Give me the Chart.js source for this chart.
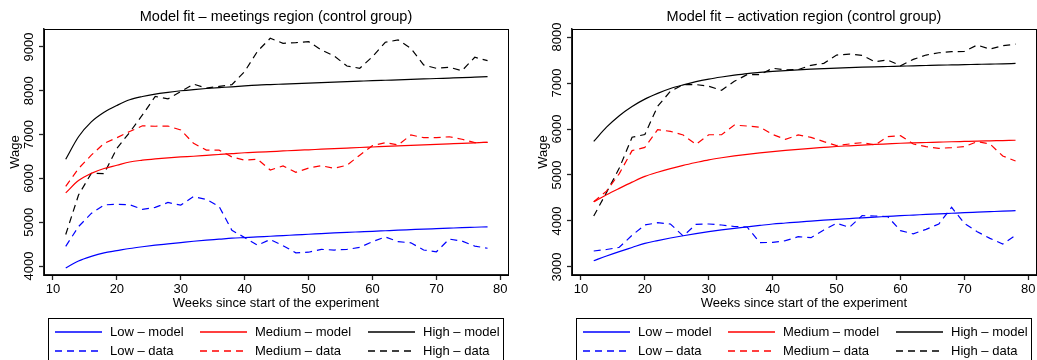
<!DOCTYPE html>
<html>
<head>
<meta charset="utf-8">
<script src="https://cdn.jsdelivr.net/npm/chart.js@4.4.1/dist/chart.umd.min.js"></script>
<style>
  html, body { margin: 0; padding: 0; background: #fff; overflow: hidden; }
  #wrap { position: relative; width: 1037px; height: 360px; overflow: hidden; }
  .panel { position: absolute; top: 0; width: 518px; height: 360px; }
  #p1 { left: 0; }
  #p2 { left: 528px; }
</style>
</head>
<body>
<div id="wrap">
  <div class="panel" id="p1"><canvas id="meetings" width="518" height="360"></canvas></div>
  <div class="panel" id="p2"><canvas id="activation" width="518" height="360"></canvas></div>
</div>
<script>
// weeks since start (every 2 weeks)
const weeks = [12, 14, 16, 18, 20, 22, 24, 26, 28, 30, 32, 34, 36, 38, 40, 42, 44, 46, 48, 50, 52, 54, 56, 58, 60, 62, 64, 66, 68, 70, 72, 74, 76, 78];

const seriesNames = ["Low – model", "Medium – model", "High – model", "Low – data", "Medium – data", "High – data"];
const seriesColors = ["#0000ff", "#ff0000", "#000000", "#0000ff", "#ff0000", "#000000"];

const xTicks = [10, 20, 30, 40, 50, 60, 70, 80];

// meetings region
const meetingsTitle = "Model fit – meetings region (control group)";
const meetingsYTicks = [4000, 5000, 6000, 7000, 8000, 9000];
const lowModelM = [3955, 4115, 4220, 4300, 4350, 4400, 4440, 4475, 4505, 4535, 4565, 4590, 4612, 4635, 4650, 4665, 4680, 4695, 4710, 4725, 4740, 4755, 4768, 4780, 4792, 4805, 4818, 4830, 4842, 4853, 4864, 4875, 4885, 4895];
const midModelM = [5670, 5950, 6115, 6225, 6300, 6375, 6415, 6445, 6470, 6490, 6505, 6525, 6545, 6565, 6585, 6598, 6612, 6626, 6640, 6653, 6666, 6679, 6692, 6705, 6717, 6729, 6741, 6753, 6765, 6777, 6789, 6801, 6812, 6824];
const highModelM = [6436, 6950, 7290, 7510, 7665, 7795, 7870, 7925, 7965, 8000, 8028, 8052, 8072, 8090, 8112, 8130, 8142, 8153, 8164, 8175, 8186, 8197, 8208, 8219, 8230, 8240, 8250, 8260, 8270, 8280, 8290, 8300, 8311, 8322];
const lowDataM = [4450, 4900, 5200, 5395, 5410, 5400, 5292, 5340, 5450, 5390, 5585, 5520, 5360, 4815, 4650, 4475, 4605, 4465, 4300, 4315, 4380, 4365, 4380, 4425, 4555, 4665, 4555, 4530, 4365, 4325, 4615, 4570, 4455, 4405];
const midDataM = [5820, 6225, 6530, 6800, 6928, 7070, 7200, 7190, 7195, 7105, 6800, 6645, 6645, 6490, 6415, 6440, 6190, 6285, 6140, 6235, 6290, 6230, 6300, 6530, 6747, 6815, 6763, 6991, 6930, 6930, 6950, 6893, 6815, 6824];
const highDataM = [4720, 5620, 6115, 6110, 6684, 7050, 7448, 7869, 7815, 7983, 8151, 8060, 8100, 8140, 8440, 8900, 9198, 9084, 9098, 9121, 8932, 8795, 8566, 8513, 8779, 9107, 9160, 8970, 8589, 8513, 8536, 8459, 8765, 8687];

// activation region
const activationTitle = "Model fit – activation region (control group)";
const activationYTicks = [3000, 4000, 5000, 6000, 7000, 8000];
const lowModelA = [3137, 3240, 3335, 3425, 3515, 3575, 3630, 3680, 3725, 3767, 3805, 3840, 3872, 3904, 3935, 3956, 3977, 3997, 4017, 4037, 4053, 4069, 4085, 4100, 4116, 4129, 4142, 4155, 4168, 4181, 4192, 4203, 4214, 4224];
const midModelA = [4418, 4570, 4710, 4845, 4970, 5060, 5140, 5210, 5272, 5330, 5375, 5415, 5450, 5482, 5510, 5535, 5558, 5580, 5600, 5620, 5635, 5650, 5664, 5677, 5690, 5699, 5707, 5715, 5723, 5730, 5737, 5743, 5749, 5755];
const highModelA = [5730, 6040, 6290, 6490, 6650, 6775, 6880, 6960, 7030, 7085, 7130, 7170, 7205, 7230, 7252, 7270, 7286, 7300, 7313, 7325, 7335, 7344, 7352, 7359, 7366, 7373, 7380, 7387, 7393, 7399, 7405, 7411, 7416, 7425];
const lowDataA = [3348, 3380, 3428, 3690, 3913, 3963, 3935, 3674, 3927, 3935, 3913, 3880, 3870, 3530, 3535, 3572, 3659, 3637, 3804, 3949, 3862, 4116, 4109, 4094, 3790, 3720, 3819, 3935, 4297, 3949, 3768, 3623, 3500, 3688];
const midDataA = [4418, 4650, 5030, 5530, 5600, 5985, 5950, 5870, 5665, 5875, 5875, 6085, 6065, 6040, 5880, 5776, 5870, 5819, 5725, 5640, 5674, 5703, 5652, 5833, 5855, 5674, 5616, 5580, 5594, 5616, 5725, 5674, 5413, 5304];
const highDataA = [4107, 4620, 5150, 5820, 5880, 6495, 6820, 6965, 6965, 6929, 6842, 7038, 7182, 7182, 7320, 7286, 7291, 7385, 7427, 7608, 7629, 7602, 7462, 7500, 7375, 7514, 7608, 7658, 7680, 7689, 7825, 7738, 7810, 7846];

const FONT = "'Liberation Sans', Arial, Helvetica, sans-serif";
Chart.defaults.font.family = FONT;
Chart.defaults.font.size = 13;
Chart.defaults.color = "#000";

// box around the plot region
const frame = {
  id: "frame",
  afterDraw(chart) {
    const a = chart.chartArea;
    const ctx = chart.ctx;
    ctx.save();
    ctx.strokeStyle = "#000";
    ctx.lineWidth = 1;
    ctx.strokeRect(Math.round(a.left) + 0.5, Math.round(a.top) + 0.5, Math.round(a.right - a.left), Math.round(a.bottom - a.top));
    ctx.restore();
  }
};

// stata-like legend: 3 columns x 2 rows inside a box
const boxLegend = {
  id: "boxLegend",
  afterDraw(chart) {
    const ctx = chart.ctx;
    const colX = [55, 200, 368];
    const rowY = [332, 351];
    ctx.save();
    ctx.strokeStyle = "#000";
    ctx.lineWidth = 1;
    ctx.setLineDash([]);
    ctx.strokeRect(48.5, 318.5, 455, 60);
    chart.data.datasets.forEach((d, i) => {
      const x = colX[i % 3];
      const y = rowY[Math.floor(i / 3)];
      ctx.save();
      ctx.beginPath();
      ctx.setLineDash(i < 3 ? [] : [7, 5]);
      ctx.strokeStyle = seriesColors[i];
      ctx.lineWidth = 1.3;
      ctx.moveTo(x, y);
      ctx.lineTo(x + 47, y);
      ctx.stroke();
      ctx.restore();
      ctx.fillStyle = "#000";
      ctx.font = "13px " + FONT;
      ctx.textBaseline = "middle";
      ctx.fillText(d.label, x + 55, y);
    });
    ctx.restore();
  }
};

function makeChart(id, title, yMin, yMax, yTicks, series) {
  const datasets = series.map((vals, i) => ({
    label: seriesNames[i],
    data: weeks.map((w, j) => ({ x: w, y: vals[j] })),
    borderColor: seriesColors[i],
    backgroundColor: seriesColors[i],
    borderWidth: 1.2,
    borderDash: i < 3 ? [] : [7, 5],
    cubicInterpolationMode: i < 3 ? "monotone" : "default",
    tension: 0,
    pointRadius: 0,
    fill: false
  }));

  new Chart(document.getElementById(id), {
    type: "line",
    data: { datasets },
    plugins: [frame, boxLegend],
    options: {
      responsive: false,
      animation: false,
      events: [],
      layout: { padding: { top: 0, right: 10, bottom: 49, left: 0 } },
      plugins: {
        legend: { display: false },
        tooltip: { enabled: false },
        title: {
          display: true,
          fullSize: false,
          text: title,
          color: "#000",
          font: { size: 14.5, weight: "normal" },
          padding: { top: 8, bottom: 3.6 }
        }
      },
      scales: {
        x: {
          type: "linear",
          min: 8.6,
          max: 81.2,
          afterBuildTicks: s => { s.ticks = xTicks.map(v => ({ value: v })); },
          afterFit: s => { s.height = 36; },
          ticks: { color: "#000", padding: 2, callback: v => String(v) },
          grid: { drawOnChartArea: false, tickLength: 5, tickColor: "#222", tickWidth: 1.3 },
          border: { color: "#222", width: 1.5 },
          title: { display: true, text: "Weeks since start of the experiment", color: "#000", padding: 0 }
        },
        y: {
          type: "linear",
          min: yMin,
          max: yMax,
          afterBuildTicks: s => { s.ticks = yTicks.map(v => ({ value: v })); },
          afterFit: s => { s.width = 44; },
          ticks: { color: "#000", minRotation: 90, maxRotation: 90, crossAlign: "center", padding: -5, callback: v => String(v) },
          grid: { drawOnChartArea: false, tickLength: 5, tickColor: "#222", tickWidth: 1.3 },
          border: { color: "#222", width: 1.5 },
          title: { display: true, text: "Wage", color: "#000", padding: { top: 8, bottom: 0 } }
        }
      }
    }
  });
}

makeChart("meetings", meetingsTitle, 3795, 9410, meetingsYTicks,
  [lowModelM, midModelM, highModelM, lowDataM, midDataM, highDataM]);
makeChart("activation", activationTitle, 2826, 8174, activationYTicks,
  [lowModelA, midModelA, highModelA, lowDataA, midDataA, highDataA]);
</script>
</body>
</html>
